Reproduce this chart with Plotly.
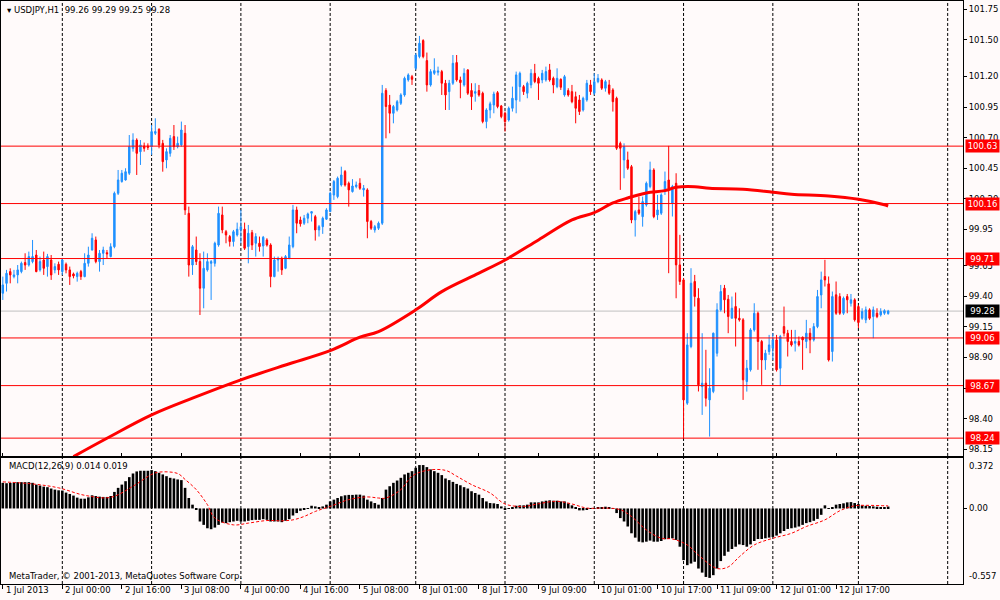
import plotly.graph_objects as go

# ---------------- data ----------------
time_labels = ["1 Jul 2013", "2 Jul 00:00", "2 Jul 16:00", "3 Jul 08:00", "4 Jul 00:00",
               "4 Jul 16:00", "5 Jul 08:00", "8 Jul 01:00", "8 Jul 17:00", "9 Jul 09:00",
               "10 Jul 01:00", "10 Jul 17:00", "11 Jul 09:00", "12 Jul 01:00", "12 Jul 17:00"]
label_bars = [0, 16, 32, 48, 64, 80, 96, 112, 128, 144, 160, 176, 192, 208, 224]
grid_bars = [16, 40, 64, 88, 111, 135, 159, 183, 207, 230, 254]

price_ticks = [101.75, 101.50, 101.20, 100.95, 100.70, 100.45, 100.20, 99.95,
               99.65, 99.40, 99.15, 98.90, 98.65, 98.40, 98.15]
levels = [100.63, 100.16, 99.71, 99.06, 98.67, 98.24]

open_ = [
    99.426, 99.507, 99.603, 99.562, 99.576, 99.603, 99.677, 99.657, 99.685, 99.739,
    99.617, 99.698, 99.644, 99.698, 99.617, 99.663, 99.603, 99.663, 99.617, 99.584,
    99.562, 99.603, 99.562, 99.671, 99.780, 99.862, 99.685, 99.753, 99.758, 99.726,
    99.807, 100.244, 100.340, 100.353, 100.408, 100.612, 100.680, 100.585, 100.631, 100.631,
    100.626, 100.735, 100.768, 100.653, 100.517, 100.571, 100.708, 100.626, 100.640, 100.735,
    100.080, 99.657, 99.780, 99.685, 99.467, 99.617, 99.671, 99.671, 99.821, 100.067,
    99.930, 99.890, 99.849, 99.903, 99.944, 99.950, 99.808, 99.922, 99.835, 99.835,
    99.813, 99.862, 99.821, 99.562, 99.698, 99.712, 99.630, 99.712, 99.808, 100.108,
    100.026, 99.999, 100.040, 100.081, 100.053, 99.944, 99.971, 100.032, 100.094, 100.230,
    100.217, 100.312, 100.422, 100.326, 100.258, 100.299, 100.326, 100.272, 100.272, 100.013,
    99.944, 99.958, 99.999, 101.085, 100.967, 100.899, 100.926, 100.981, 101.049, 101.172,
    101.199, 101.267, 101.363, 101.494, 101.330, 101.131, 101.226, 101.235, 101.240, 101.145,
    101.076, 101.145, 101.314, 101.172, 101.131, 101.254, 101.085, 101.063, 101.085, 101.063,
    100.831, 100.926, 100.967, 101.068, 100.959, 100.899, 100.844, 100.940, 101.008, 101.117,
    101.117, 101.063, 101.131, 101.226, 101.185, 101.172, 101.172, 101.254, 101.185, 101.117,
    101.177, 101.049, 101.085, 101.076, 101.035, 101.008, 100.926, 101.008, 101.131, 101.063,
    101.158, 101.172, 101.104, 101.131, 101.090, 101.022, 100.653, 100.517, 100.517, 100.462,
    100.026, 100.108, 100.053, 100.149, 100.299, 100.435, 100.067, 100.081, 100.272, 100.353,
    100.163, 100.326, 99.658, 99.535, 98.526, 98.990, 99.522, 99.385, 98.662, 98.690,
    98.553, 98.622, 98.935, 99.290, 99.467, 99.377, 99.221, 99.317, 99.221, 99.208,
    98.703, 98.799, 99.126, 99.262, 99.031, 98.880, 98.949, 98.976, 99.044, 98.812,
    99.153, 99.099, 99.031, 99.017, 99.031, 99.066, 99.031, 99.099, 99.044, 99.153,
    99.412, 99.563, 99.503, 98.949, 99.413, 99.399, 99.262, 99.399, 99.344, 99.372,
    99.317, 99.221, 99.208, 99.290, 99.235, 99.262, 99.249, 99.262, 99.260]

high = [
    99.562, 99.617, 99.630, 99.617, 99.657, 99.685, 99.753, 99.767, 99.862, 99.780,
    99.726, 99.767, 99.748, 99.739, 99.671, 99.685, 99.712, 99.677, 99.644, 99.595,
    99.603, 99.617, 99.753, 99.807, 99.917, 99.890, 99.780, 99.807, 99.780, 99.835,
    100.258, 100.435, 100.435, 100.449, 100.721, 100.735, 100.694, 100.680, 100.659, 100.653,
    100.803, 100.858, 100.776, 100.681, 100.612, 100.721, 100.803, 100.708, 100.831, 100.803,
    100.135, 99.821, 99.890, 99.753, 99.767, 99.753, 99.698, 99.848, 100.135, 100.135,
    99.944, 99.903, 99.944, 100.004, 100.108, 100.004, 99.985, 99.944, 99.917, 99.890,
    99.895, 99.876, 99.835, 99.726, 99.726, 99.726, 99.739, 99.890, 100.149, 100.135,
    100.053, 100.067, 100.086, 100.094, 100.067, 99.985, 100.053, 100.122, 100.258, 100.353,
    100.381, 100.462, 100.435, 100.340, 100.360, 100.340, 100.367, 100.312, 100.285, 100.026,
    99.985, 100.013, 101.131, 101.104, 101.049, 100.967, 101.008, 101.063, 101.199, 101.226,
    101.213, 101.390, 101.532, 101.505, 101.396, 101.260, 101.349, 101.281, 101.254, 101.172,
    101.172, 101.376, 101.376, 101.199, 101.267, 101.260, 101.145, 101.145, 101.131, 101.076,
    100.940, 100.994, 101.076, 101.081, 100.967, 100.913, 100.954, 101.117, 101.240, 101.240,
    101.131, 101.158, 101.260, 101.303, 101.199, 101.254, 101.281, 101.303, 101.199, 101.267,
    101.185, 101.213, 101.104, 101.131, 101.076, 101.049, 101.035, 101.172, 101.172, 101.226,
    101.220, 101.185, 101.172, 101.172, 101.104, 101.035, 100.667, 100.653, 100.585, 100.476,
    100.108, 100.217, 100.217, 100.340, 100.503, 100.449, 100.231, 100.244, 100.422, 100.632,
    100.313, 100.408, 99.904, 99.549, 99.099, 99.631, 99.576, 99.467, 99.099, 98.963,
    98.812, 99.104, 99.344, 99.494, 99.494, 99.412, 99.399, 99.432, 99.303, 99.222,
    98.880, 99.140, 99.344, 99.276, 99.044, 98.963, 99.085, 99.099, 99.085, 99.085,
    99.317, 99.126, 99.126, 99.126, 99.072, 99.072, 99.208, 99.140, 99.181, 99.453,
    99.603, 99.699, 99.563, 99.440, 99.522, 99.426, 99.399, 99.420, 99.420, 99.385,
    99.331, 99.303, 99.317, 99.303, 99.317, 99.303, 99.303, 99.295, 99.290]

low = [
    99.371, 99.440, 99.507, 99.548, 99.507, 99.589, 99.617, 99.644, 99.671, 99.598,
    99.603, 99.576, 99.562, 99.535, 99.589, 99.576, 99.576, 99.589, 99.494, 99.548,
    99.521, 99.535, 99.557, 99.644, 99.775, 99.671, 99.603, 99.657, 99.712, 99.720,
    99.794, 100.230, 100.331, 100.348, 100.394, 100.585, 100.394, 100.476, 100.585, 100.599,
    100.558, 100.721, 100.612, 100.421, 100.449, 100.544, 100.599, 100.612, 100.626, 100.067,
    99.562, 99.576, 99.657, 99.248, 99.303, 99.603, 99.371, 99.644, 99.807, 99.917,
    99.835, 99.808, 99.808, 99.890, 99.835, 99.780, 99.671, 99.780, 99.726, 99.767,
    99.726, 99.808, 99.475, 99.557, 99.603, 99.576, 99.623, 99.704, 99.794, 99.917,
    99.971, 99.985, 99.999, 100.013, 99.857, 99.890, 99.912, 100.026, 100.094, 100.190,
    100.203, 100.299, 100.299, 100.135, 100.250, 100.285, 100.272, 100.217, 99.876, 99.944,
    99.922, 99.944, 99.985, 100.694, 100.735, 100.817, 100.913, 100.967, 101.035, 101.158,
    101.131, 101.254, 101.349, 101.349, 101.076, 101.117, 101.213, 101.208, 101.049, 100.926,
    100.926, 101.131, 101.158, 101.022, 101.117, 101.049, 100.926, 100.994, 101.035, 100.817,
    100.776, 100.858, 100.899, 100.940, 100.858, 100.749, 100.831, 100.913, 100.899, 100.994,
    101.049, 101.022, 101.104, 101.145, 101.008, 101.145, 101.158, 101.158, 101.063, 101.104,
    101.090, 101.035, 101.035, 100.981, 100.817, 100.885, 100.913, 100.994, 101.049, 101.049,
    101.145, 101.090, 101.076, 101.049, 100.913, 100.599, 100.272, 100.367, 100.435, 99.999,
    99.890, 100.067, 99.971, 100.135, 100.285, 100.040, 100.026, 100.067, 100.231, 99.590,
    100.054, 99.385, 99.494, 98.240, 98.512, 98.976, 99.317, 98.622, 98.430, 98.499,
    98.253, 98.608, 98.908, 99.276, 99.262, 99.099, 99.221, 98.990, 99.194, 98.553,
    98.621, 98.785, 99.112, 98.799, 98.676, 98.799, 98.922, 98.880, 98.785, 98.667,
    99.072, 98.908, 98.990, 98.949, 98.990, 98.799, 98.976, 98.935, 99.031, 99.140,
    99.303, 99.481, 98.867, 98.867, 99.249, 99.249, 99.249, 99.262, 99.317, 99.194,
    99.140, 99.208, 99.181, 99.208, 99.058, 99.222, 99.235, 99.249, 99.250]

close = [
    99.494, 99.589, 99.576, 99.576, 99.617, 99.671, 99.657, 99.726, 99.726, 99.603,
    99.685, 99.630, 99.726, 99.576, 99.644, 99.617, 99.698, 99.617, 99.562, 99.567,
    99.589, 99.562, 99.671, 99.739, 99.876, 99.685, 99.753, 99.780, 99.748, 99.807,
    100.244, 100.353, 100.408, 100.421, 100.626, 100.680, 100.571, 100.640, 100.612, 100.620,
    100.749, 100.749, 100.640, 100.503, 100.585, 100.694, 100.626, 100.653, 100.762, 100.108,
    99.657, 99.807, 99.685, 99.467, 99.630, 99.685, 99.685, 99.835, 100.080, 99.944,
    99.903, 99.849, 99.930, 99.950, 99.971, 99.794, 99.917, 99.821, 99.890, 99.808,
    99.884, 99.821, 99.562, 99.698, 99.712, 99.617, 99.726, 99.821, 100.108, 99.999,
    99.994, 100.040, 100.075, 100.094, 99.944, 99.971, 100.040, 100.108, 100.244, 100.340,
    100.367, 100.394, 100.312, 100.272, 100.304, 100.312, 100.285, 100.285, 100.013, 99.958,
    99.971, 99.999, 101.063, 100.954, 100.899, 100.954, 100.994, 101.049, 101.185, 101.213,
    101.177, 101.376, 101.472, 101.363, 101.131, 101.240, 101.248, 101.245, 101.145, 101.049,
    101.145, 101.308, 101.172, 101.150, 101.226, 101.063, 101.035, 101.076, 101.049, 100.831,
    100.926, 100.976, 101.057, 100.954, 100.872, 100.831, 100.940, 101.022, 101.213, 101.226,
    101.076, 101.145, 101.226, 101.158, 101.145, 101.226, 101.240, 101.172, 101.131, 101.185,
    101.112, 101.199, 101.049, 100.994, 100.940, 100.913, 101.022, 101.145, 101.076, 101.158,
    101.185, 101.104, 101.158, 101.063, 100.994, 100.613, 100.613, 100.626, 100.449, 100.026,
    100.094, 100.081, 100.176, 100.326, 100.435, 100.053, 100.108, 100.231, 100.340, 100.286,
    100.299, 99.658, 99.522, 98.553, 99.003, 99.508, 99.399, 98.676, 98.690, 98.567,
    98.649, 99.099, 99.290, 99.440, 99.372, 99.235, 99.303, 99.221, 99.208, 98.717,
    98.812, 99.126, 99.262, 99.031, 98.880, 98.935, 99.003, 99.044, 98.799, 99.072,
    99.099, 99.031, 99.003, 99.031, 99.003, 99.044, 99.099, 99.044, 99.153, 99.399,
    99.535, 99.535, 98.880, 99.399, 99.262, 99.262, 99.385, 99.372, 99.372, 99.208,
    99.186, 99.276, 99.290, 99.221, 99.290, 99.235, 99.276, 99.283, 99.280]

ma_bars = [19, 28, 40, 51, 64, 76, 88, 96, 101, 111, 118, 128, 135, 144, 153, 159, 164,
           168, 173, 178, 181, 186, 190, 199, 207, 212, 222, 230, 237, 238]
ma_vals = [98.089, 98.239, 98.430, 98.567, 98.717, 98.839, 98.956, 99.066, 99.112, 99.290,
           99.439, 99.590, 99.698, 99.862, 100.026, 100.086, 100.165, 100.206, 100.247,
           100.266, 100.293, 100.298, 100.285, 100.277, 100.252, 100.236, 100.222, 100.195,
           100.150, 100.140]

macd_hist = [
    0.189, 0.186, 0.189, 0.191, 0.194, 0.194, 0.194, 0.194, 0.189,
    0.176, 0.169, 0.161, 0.157, 0.147, 0.139, 0.134, 0.132, 0.117, 0.107, 0.095,
    0.080, 0.072, 0.072, 0.082, 0.097, 0.092, 0.087, 0.085, 0.085, 0.092,
    0.122, 0.152, 0.176, 0.201, 0.231, 0.258, 0.273, 0.278, 0.278, 0.278, 0.283,
    0.275, 0.263, 0.251, 0.238, 0.226, 0.221, 0.214, 0.209, 0.152, 0.077, 0.028,
    -0.009, -0.096, -0.121, -0.146, -0.153, -0.141, -0.121, -0.104, -0.108, -0.101,
    -0.096, -0.091, -0.096, -0.096, -0.091, -0.086, -0.084, -0.084, -0.079, -0.084,
    -0.096, -0.096, -0.096, -0.101, -0.091, -0.079,
    -0.052, -0.034, -0.017, -0.009, 0.003, 0.020, 0.015, 0.008, 0.015, 0.028,
    0.052, 0.065, 0.077, 0.090, 0.097, 0.100, 0.100, 0.102, 0.102, 0.095,
    0.065, 0.052, 0.040, 0.028,
    0.077, 0.139, 0.164, 0.189, 0.206, 0.226, 0.251, 0.263, 0.275, 0.300,
    0.320, 0.320, 0.305, 0.288, 0.275, 0.263,
    0.246, 0.221, 0.209, 0.196, 0.181, 0.171, 0.157, 0.147, 0.127, 0.114,
    0.102, 0.077, 0.052, 0.040, 0.038, 0.033, 0.015, -0.009, -0.002, 0.008,
    0.020, 0.023, 0.023, 0.028, 0.045, 0.045, 0.045, 0.052, 0.057, 0.060,
    0.057, 0.057, 0.052, 0.052, 0.038, 0.023, 0.008, -0.014, -0.014, -0.009,
    -0.002, 0.003, 0.008, 0.008, 0.013, 0.008, -0.002,
    -0.034, -0.071, -0.096, -0.133, -0.183, -0.215, -0.245, -0.250, -0.245, -0.237,
    -0.245, -0.245, -0.240, -0.227, -0.225, -0.220, -0.232, -0.282, -0.381, -0.418,
    -0.406, -0.393, -0.443, -0.473, -0.505, -0.512, -0.492, -0.443, -0.388, -0.349,
    -0.319, -0.299, -0.282, -0.265, -0.270, -0.282, -0.265, -0.240, -0.225, -0.225,
    -0.220, -0.215, -0.210, -0.200, -0.183, -0.166, -0.151, -0.146, -0.141, -0.133,
    -0.121, -0.108, -0.101, -0.091, -0.077, -0.047, 0.023, 0.003, 0.008, 0.028,
    0.033, 0.038, 0.045, 0.047, 0.040, 0.033, 0.023, 0.020, 0.018, 0.015,
    0.013, 0.010, 0.008, 0.014]

sig_bars = [0, 8, 15, 22, 29, 35, 40, 42, 47, 49, 52, 55, 57, 62, 66, 71, 75, 78, 81, 84,
            88, 93, 98, 101, 103, 107, 110, 114, 119, 122, 126, 131, 135, 140, 144, 149,
            153, 157, 162, 166, 169, 173, 177, 180, 184, 187, 192, 195, 198, 202, 207,
            212, 216, 221, 225, 229, 232, 237, 238]
sig_vals = [0.196, 0.181, 0.152, 0.097, 0.082, 0.164, 0.251, 0.268, 0.258, 0.214,
            0.139, 0.028, -0.071, -0.121, -0.108, -0.089, -0.091, -0.084, -0.059, -0.022,
            0.015, 0.065, 0.085, 0.077, 0.077, 0.139, 0.238, 0.281, 0.281, 0.238,
            0.176, 0.114, 0.033, 0.015, 0.035, 0.053, 0.033, 0.003, 0.003, -0.009,
            -0.059, -0.158, -0.220, -0.225, -0.269, -0.344, -0.443, -0.431, -0.356, -0.269,
            -0.220, -0.183, -0.133, -0.084, -0.017, 0.020, 0.023, 0.020, 0.019]

macd_scale = [0.372, 0.00, -0.557]

# ---------------- figure ----------------
FONT = "DejaVu Sans"
FS = 8.5
BG = "#FFFAFA"
BLUE = "#1E90FF"
RED = "#FF0000"

n = min(len(open_), len(high), len(low), len(close))
bars = list(range(n))
hbars = list(range(len(macd_hist)))

fig = go.Figure()
fig.add_trace(go.Candlestick(
    x=bars, open=open_[:n], high=high[:n], low=low[:n], close=close[:n],
    increasing=dict(line=dict(color=BLUE, width=1), fillcolor=BLUE),
    decreasing=dict(line=dict(color=RED, width=1), fillcolor=RED),
    whiskerwidth=0, showlegend=False, hoverinfo="skip", xaxis="x", yaxis="y"))
fig.add_trace(go.Scatter(
    x=ma_bars, y=ma_vals, mode="lines", line=dict(color=RED, width=3, shape="spline"),
    showlegend=False, hoverinfo="skip", xaxis="x", yaxis="y"))
fig.add_trace(go.Bar(
    x=hbars, y=macd_hist, width=0.7, marker=dict(color="#000000", line=dict(width=0)),
    showlegend=False, hoverinfo="skip", xaxis="x", yaxis="y2"))
fig.add_trace(go.Scatter(
    x=sig_bars, y=sig_vals, mode="lines",
    line=dict(color=RED, width=1, dash="3px,2px", shape="spline"),
    showlegend=False, hoverinfo="skip", xaxis="x", yaxis="y2"))

x_lo = -0.484
x_hi = x_lo + 962 / 3.72
y_main = [98.094, 101.818]

shapes = []
for g in grid_bars:
    for ref in ("y domain", "y2 domain"):
        shapes.append(dict(type="line", xref="x", yref=ref, x0=g, x1=g, y0=0, y1=1,
                           line=dict(color="#000000", width=1, dash="3px,2px"), layer="below"))
shapes.append(dict(type="line", xref="x domain", yref="y", x0=0, x1=1,
                   y0=close[n - 1], y1=close[n - 1], line=dict(color="#C0C0C0", width=1),
                   layer="below"))
for lv in levels:
    shapes.append(dict(type="line", xref="x domain", yref="y", x0=0, x1=1, y0=lv, y1=lv,
                       line=dict(color=RED, width=1), layer="above"))

ann = []
for b, t in zip(label_bars, time_labels):
    ann.append(dict(x=b, xref="x", y=-0.0105, yref="paper", text=t, showarrow=False,
                    xanchor="left", yanchor="middle", xshift=1,
                    font=dict(family=FONT, size=FS, color="#000000")))
for lv in levels:
    ann.append(dict(x=1.002, xref="paper", y=lv, yref="y", text=f"{lv:.2f}",
                    showarrow=False, xanchor="left", yanchor="middle", bgcolor=RED,
                    width=31, height=10, borderpad=1, align="center",
                    font=dict(family=FONT, size=FS, color="#FFFFFF")))
ann.append(dict(x=1.002, xref="paper", y=close[n - 1], yref="y", text=f"{close[n - 1]:.2f}",
                showarrow=False, xanchor="left", yanchor="middle", bgcolor="#000000",
                width=31, height=10, borderpad=1, align="center",
                font=dict(family=FONT, size=FS, color="#FFFFFF")))
ann.append(dict(x=1.004, xref="paper", y=macd_scale[0], yref="y2", text=f"{macd_scale[0]:.3f}",
                showarrow=False, xanchor="left", yanchor="top", yshift=-1,
                font=dict(family=FONT, size=FS, color="#000000")))
ann.append(dict(x=1.004, xref="paper", y=macd_scale[1], yref="y2", text=f"{macd_scale[1]:.2f}",
                showarrow=False, xanchor="left", yanchor="middle",
                font=dict(family=FONT, size=FS, color="#000000")))
ann.append(dict(x=1.004, xref="paper", y=macd_scale[2], yref="y2", text=f"{macd_scale[2]:.3f}",
                showarrow=False, xanchor="left", yanchor="bottom", yshift=1,
                font=dict(family=FONT, size=FS, color="#000000")))
ann.append(dict(x=0.004, xref="paper", y=0.9846, yref="paper",
                text=f"▾ USDJPY,H1  {open_[n-1]:.2f} {high[n-1]:.2f} {low[n-1]:.2f} {close[n-1]:.2f}",
                showarrow=False, xanchor="left", yanchor="middle",
                font=dict(family=FONT, size=FS, color="#000000")))
ann.append(dict(x=0.006, xref="paper", y=0.2024, yref="paper",
                text=f"MACD(12,26,9) {macd_hist[-1]:.3f} {sig_vals[-1]:.3f}",
                showarrow=False, xanchor="left", yanchor="middle",
                font=dict(family=FONT, size=FS, color="#000000")))
ann.append(dict(x=0.006, xref="paper", y=0.0137, yref="paper",
                text="MetaTrader, © 2001-2013, MetaQuotes Software Corp.",
                showarrow=False, xanchor="left", yanchor="middle",
                font=dict(family=FONT, size=FS, color="#000000")))

fig.update_layout(
    width=1000, height=600,
    margin=dict(l=1, r=37, t=1, b=16, autoexpand=False),
    paper_bgcolor=BG, plot_bgcolor=BG,
    showlegend=False, hovermode=False, boxgap=0.45,
    font=dict(family=FONT, size=FS, color="#000000"),
    xaxis=dict(range=[x_lo, x_hi], anchor="y2", showline=True, linecolor="#000000",
               linewidth=1, mirror="all", ticks="outside", ticklen=4, tickcolor="#000000",
               tickvals=label_bars, showticklabels=False, showgrid=False, zeroline=False,
               automargin=False, rangeslider=dict(visible=False)),
    yaxis=dict(domain=[0.2196, 1.0], range=y_main, side="right", anchor="x",
               showline=True, linecolor="#000000", linewidth=1, mirror=True,
               ticks="outside", ticklen=3, tickcolor="#000000", tickvals=price_ticks,
               tickformat=".2f", tickfont=dict(family=FONT, size=FS, color="#000000"),
               showgrid=False, zeroline=False, automargin=False),
    yaxis2=dict(domain=[0.0, 0.2161], range=[macd_scale[2], macd_scale[0]], side="right",
                anchor="x", showline=True, linecolor="#000000", linewidth=1, mirror=True,
                ticks="outside", ticklen=3, tickcolor="#000000", tickvals=[0],
                showticklabels=False, showgrid=False, zeroline=False, automargin=False),
    shapes=shapes, annotations=ann,
)

fig.write_html("out.html", config={"displayModeBar": False},
               post_script="document.body.style.margin='0';document.body.style.overflow='hidden';")
